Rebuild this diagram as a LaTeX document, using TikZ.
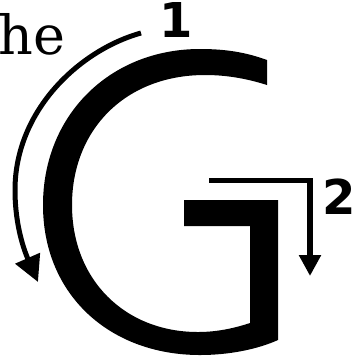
\documentclass[tikz,border=0pt]{standalone}
\usepackage{fontspec}
\newfontfamily\slabfont{DejaVu Serif}
\newfontfamily\digitfont{DejaVu Sans}
\usetikzlibrary{arrows.meta}

\begin{document}
\begin{tikzpicture}[x=0.5pt, y=-0.5pt,
    turnarrow/.style={line width=2.5pt, line join=miter},
    steplabel/.style={font=\digitfont\bfseries\fontsize{24}{24}\selectfont, inner sep=0pt}]
    \useasboundingbox (0,0) rectangle (362,360);

    % The letter G
    \fill (267,60) .. controls (245,52) and (225,49) .. (200,49)
        .. controls (110,49) and (43,115) .. (43,205)
        .. controls (43,295) and (110,355) .. (200,355)
        .. controls (230,355) and (258,349) .. (278,340)
        -- (278,200) -- (184,200) -- (184,226) -- (250,226) -- (250,323)
        .. controls (232,329) and (215,332) .. (198,332)
        .. controls (125,332) and (72,280) .. (72,205)
        .. controls (72,130) and (125,75) .. (205,75)
        .. controls (228,75) and (248,79) .. (267,85) -- cycle;

    % Word cut at the left edge
    \node[anchor=base west, inner sep=0pt, font=\slabfont\fontsize{27}{27}\selectfont] (word) at (-2,54) {he};

    % Stroke 1: the bowl
    \coordinate (oneStart) at (141,33);
    \coordinate (oneEnd) at (38,282);
    \draw[turnarrow, -{Triangle[length=13pt, width=13pt]}] (oneStart)
        .. controls (80,50) and (15,110) .. (15,190)
        .. controls (15,225) and (24,250) .. (oneEnd);
    \node[steplabel] (one) at (176,20) {1};

    % Stroke 2: the bar
    \coordinate (twoStart) at (209,180.5);
    \coordinate (twoEnd) at (310,276);
    \draw[turnarrow, line width=2.75pt, -{Triangle[length=10.5pt, width=10.5pt]}] (twoStart) -| (twoEnd);
    \node[steplabel] (two) at (339,197) {2};
\end{tikzpicture}
\end{document}
